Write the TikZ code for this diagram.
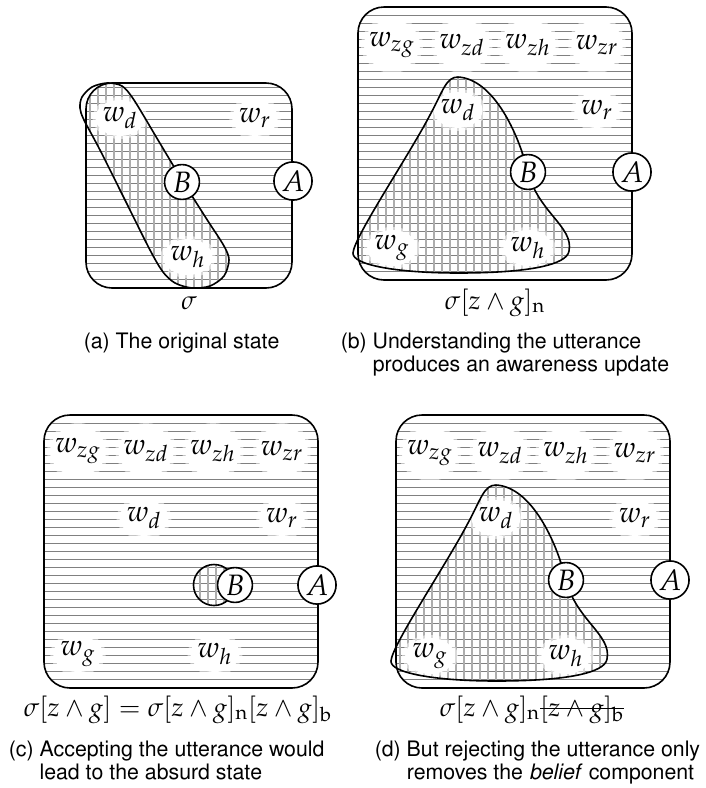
\documentclass[tikz,border=0pt]{standalone}
\usepackage[T1]{fontenc}
\usepackage{mathpazo}
\usepackage{helvet}
\usetikzlibrary{shapes.geometric}
\definecolor{hatchgray}{gray}{0.5}
\definecolor{gridgray}{gray}{0.68}
\newsavebox{\strikebox}
\newcommand{\struck}[1]{\sbox{\strikebox}{#1}\rlap{\usebox{\strikebox}}\rule[0.6ex]{\wd\strikebox}{0.5pt}}
\tikzset{
  hatch/.style={draw=hatchgray,line width=0.5pt},
  gridline/.style={draw=gridgray,line width=0.6pt},
  panel/.style={rounded corners=13pt},
  world/.style={ellipse,fill=white,draw=white,draw opacity=0.55,line width=3pt,inner sep=0pt,minimum width=21pt,minimum height=18pt},
  zworld/.style={world,inner xsep=-1.5pt,minimum height=25pt},
  agent/.style={circle,draw,fill=white,line width=0.8pt,inner sep=1.2pt},
  caption/.style={font=\sffamily\fontsize{10.65pt}{11.7pt}\selectfont,align=left,anchor=north west,inner sep=0pt},
  formula/.style={anchor=base,inner sep=0pt,font=\fontsize{13.1pt}{15pt}\selectfont}
}
% belief region of the original state
\newcommand{\beliefa}{plot[smooth cycle] coordinates {(-4,14) (6,4) (21,0) (36,3) (48,17) (72,57) (96,97) (120,135) (138,163) (143,177) (138,193) (124,203) (106,205) (89,200) (77,189) (64,167) (39,117) (14,67) (-2,37) (-6,25)}}
% belief region after the awareness update
\newcommand{\beliefb}{(100,70) .. controls (135,72) and (160,125) .. (170,165) .. controls (180,205) and (216,220) .. (211,244) .. controls (209,258) and (170,266) .. (100,266) .. controls (40,266) and (-6,258) .. (-5,246) .. controls (-4,230) and (50,150) .. (72,108) .. controls (85,84) and (88,70) .. (100,70) -- cycle}

\begin{document}
\begin{tikzpicture}[x=0.5pt,y=-0.5pt,line width=0.8pt,font=\fontsize{14.75pt}{16pt}\selectfont]
\useasboundingbox (0,0) rectangle (706,788);

% (a) the original state
\begin{scope}[shift={(86,83)}]
  \begin{scope}
    \clip[panel] (0,0) rectangle (206,205);
    \foreach \y in {4,12,...,204} \draw[hatch] (0,\y) -- (206,\y);
    \clip \beliefa;
    \foreach \x in {4,12,...,204} \draw[gridline] (\x,0) -- (\x,205);
  \end{scope}
  \node[world] (wd-a) at (34,35) {$w_d$};
  \node[world] (wr-a) at (169,35) {$w_r$};
  \node[world] (wh-a) at (102,174) {$w_h$};
  \draw[panel] (0,0) rectangle (206,205);
  \draw \beliefa;
  \node[agent] (B-a) at (96,99) {$B$};
  \node[agent] (A-a) at (207,98) {$A$};
  \node[formula] (st-a) at (103,226) {$\sigma$};
\end{scope}

% (b) and (d) share the same picture
\foreach \dx/\dy/\p in {358/7/b,396/415/d}{
\begin{scope}[shift={(\dx,\dy)}]
  \begin{scope}
    \clip[panel] (0,0) rectangle (274,273);
    \foreach \y in {8.5,16.5,...,272} \draw[hatch] (0,\y) -- (274,\y);
    \clip \beliefb;
    \foreach \x in {4,12,...,272} \draw[gridline] (\x,0) -- (\x,273);
  \end{scope}
  \node[zworld] (wzg-\p) at (34,38) {$w_{zg}$};
  \node[zworld] (wzd-\p) at (104,38) {$w_{zd}$};
  \node[zworld] (wzh-\p) at (170,38) {$w_{zh}$};
  \node[zworld] (wzr-\p) at (239,38) {$w_{zr}$};
  \node[world] (wd-\p) at (100,103) {$w_d$};
  \node[world] (wr-\p) at (239,103) {$w_r$};
  \node[world] (wg-\p) at (34,241) {$w_g$};
  \node[world] (wh-\p) at (170,241) {$w_h$};
  \draw[panel] (0,0) rectangle (274,273);
  \draw \beliefb;
  \node[agent] (B-\p) at (170,165) {$B$};
  \node[agent] (A-\p) at (274,165) {$A$};
\end{scope}}

% (c) the absurd state
\begin{scope}[shift={(44,415)}]
  \begin{scope}
    \clip[panel] (0,0) rectangle (274,273);
    \foreach \y in {8.5,16.5,...,272} \draw[hatch] (0,\y) -- (274,\y);
    \clip (170,170) circle[radius=20.5];
    \foreach \x in {148,156,...,196} \draw[gridline] (\x,140) -- (\x,200);
  \end{scope}
  \node[zworld] (wzg-c) at (34,36) {$w_{zg}$};
  \node[zworld] (wzd-c) at (102,36) {$w_{zd}$};
  \node[zworld] (wzh-c) at (169,36) {$w_{zh}$};
  \node[zworld] (wzr-c) at (238,36) {$w_{zr}$};
  \node[world] (wd-c) at (100,103) {$w_d$};
  \node[world] (wr-c) at (238,103) {$w_r$};
  \node[world] (wg-c) at (34,239) {$w_g$};
  \node[world] (wh-c) at (171,239) {$w_h$};
  \draw[panel] (0,0) rectangle (274,273);
  \draw (170,170) circle[radius=20.5];
  \node[agent] (B-c) at (191,170) {$B$};
  \node[agent] (A-c) at (273,170) {$A$};
\end{scope}

% states below the panels
\node[formula] (st-b) at (495,309) {$\sigma[z\wedge g]_{\mathrm{n}}$};
\node[formula] (st-c) at (178,716) {$\sigma[z\wedge g]=\sigma[z\wedge g]_{\mathrm{n}}[z\wedge g]_{\mathrm{b}}$};
\node[formula] (st-d) at (532,716) {$\sigma[z\wedge g]_{\mathrm{n}}$\struck{$[z\wedge g]_{\mathrm{b}}$}};

% captions
\node[caption] (cap-a) at (83,332) {(a) The original state};
\node[caption] (cap-b) at (340,332) {(b) Understanding the utterance\\\hphantom{(b) }produces an awareness update};
\node[caption] (cap-c) at (8,740) {(c) Accepting the utterance would\\\hphantom{(c) }lead to the absurd state};
\node[caption] (cap-d) at (374,740) {(d) But rejecting the utterance only\\\hphantom{(d) }removes the \emph{belief} component};
\end{tikzpicture}
\end{document}
